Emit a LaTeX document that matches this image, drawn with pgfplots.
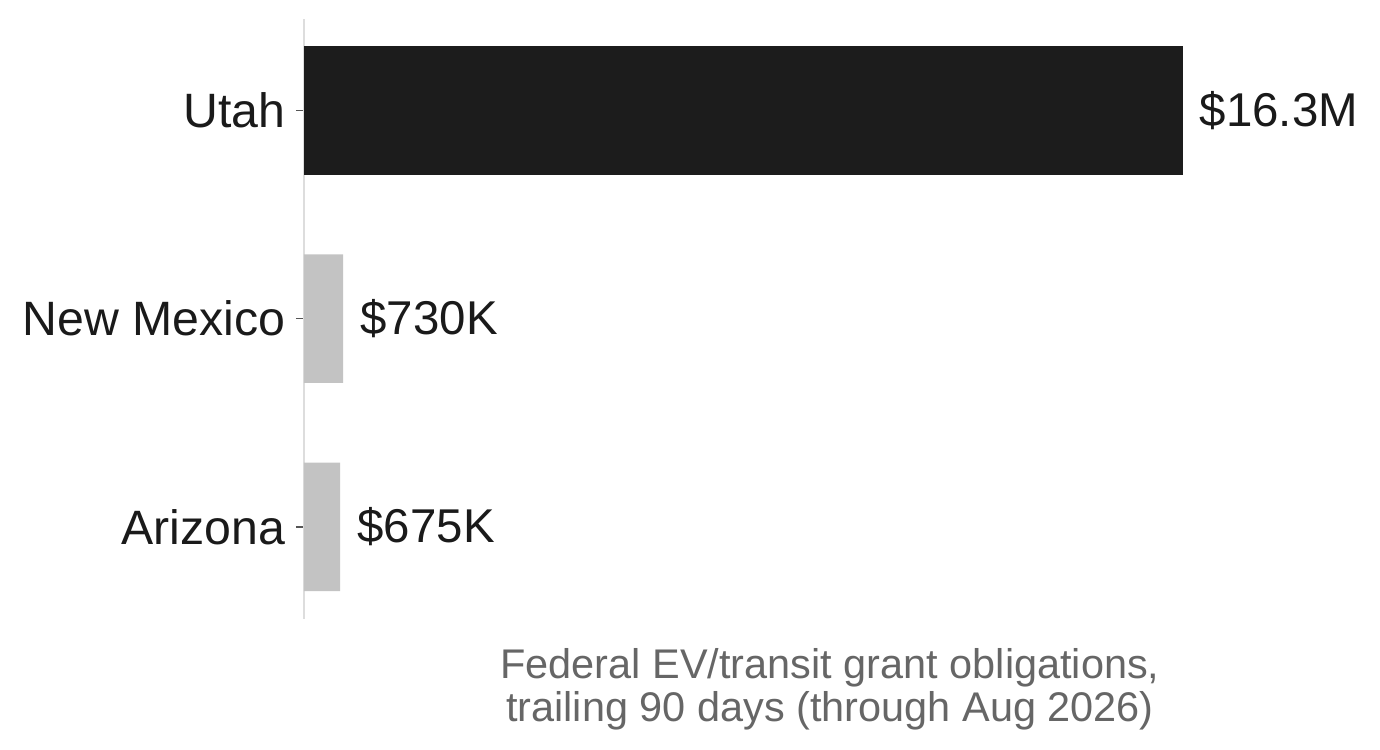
\documentclass[border={8pt 9.5pt 11pt 9pt}]{standalone}
\usepackage{pgfplots}
\pgfplotsset{compat=1.18}
\usepackage{fontspec}
\setmainfont{Liberation Sans}

\definecolor{barDark}{HTML}{1C1C1C}
\definecolor{barLight}{HTML}{C3C3C3}
\definecolor{lineGray}{HTML}{DDDDDD}
\definecolor{tickGray}{HTML}{555555}
\definecolor{textDark}{HTML}{1A1A1A}
\definecolor{labelGray}{HTML}{666666}

\begin{document}
\begin{tikzpicture}
\begin{axis}[
    scale only axis,
    width=528pt, height=301pt,
    xmin=0, xmax=19.52,
    ymin=-0.44, ymax=2.44,
    xbar, bar width=64.5pt,
    axis x line*=bottom, axis y line*=left,
    x axis line style={draw=none},
    y axis line style={draw=lineGray, line width=0.8pt, -},
    xtick=\empty,
    ytick={0,1,2},
    yticklabels={Arizona, New Mexico, Utah},
    tick align=outside,
    major tick length=4pt,
    ytick style={draw=tickGray, line width=0.6pt},
    yticklabel style={font=\fontsize{24.2}{28}\selectfont, text=textDark, xshift=-1.8pt},
    xlabel={Federal EV/transit grant obligations,\\trailing 90 days (through Aug 2026)},
    xlabel style={font=\fontsize{20.8}{21.5}\selectfont, text=labelGray, align=center,
        at={(axis description cs:0.5,0)}, anchor=north, inner sep=0pt, yshift=-15pt},
    nodes near coords,
    point meta=explicit symbolic,
    nodes near coords style={anchor=west, inner sep=0pt, xshift=8.5pt,
        font=\fontsize{23.8}{28}\selectfont, text=textDark},
]
\addplot[fill=barDark, draw=none, bar shift=0pt] table[meta=lbl] {
x     y  lbl
16.3  2  \$16.3M
};
\addplot[fill=barLight, draw=none, bar shift=0pt] table[meta=lbl] {
x      y  lbl
0.73   1  \$730K
0.675  0  \$675K
};
\end{axis}
\end{tikzpicture}
\end{document}
